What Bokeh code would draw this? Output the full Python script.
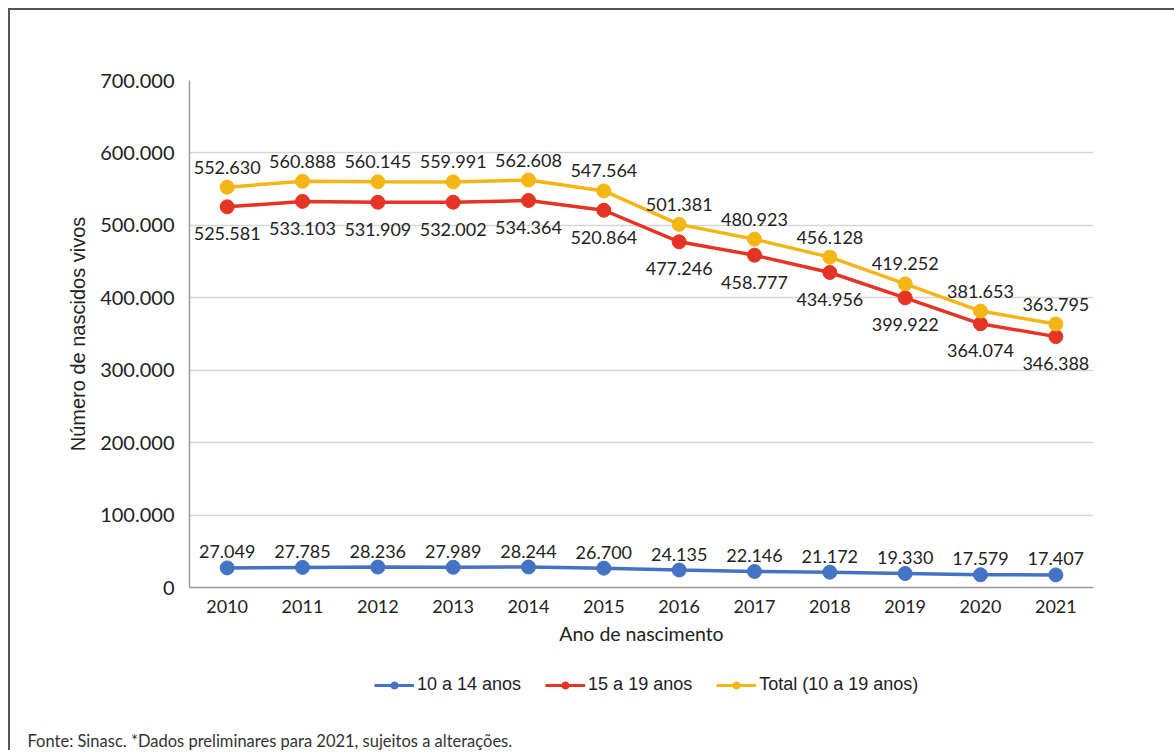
from bokeh.plotting import figure
from bokeh.layouts import column
from bokeh.models import (ColumnDataSource, FactorRange, FixedTicker, CustomJSTickFormatter,
                          Legend, LegendItem, Label, LabelSet)
from bokeh.core.properties import value
from bokeh.embed import file_html
from bokeh.resources import INLINE

years = ["2010", "2011", "2012", "2013", "2014", "2015", "2016", "2017", "2018", "2019", "2020", "2021"]
age_10_14 = [27049, 27785, 28236, 27989, 28244, 26700, 24135, 22146, 21172, 19330, 17579, 17407]
age_15_19 = [525581, 533103, 531909, 532002, 534364, 520864, 477246, 458777, 434956, 399922, 364074, 346388]
total = [552630, 560888, 560145, 559991, 562608, 547564, 501381, 480923, 456128, 419252, 381653, 363795]
series_names = ["10 a 14 anos", "15 a 19 anos", "Total (10 a 19 anos)"]
y_ticks = [0, 100000, 200000, 300000, 400000, 500000, 600000, 700000]
footer = "Fonte: Sinasc. *Dados preliminares para 2021, sujeitos a alterações."

colors = ["#4472C4", "#E53324", "#F4B614"]
FONT = "Lato"
TXT = "#222222"


def fmt(v):
    return f"{v:,}".replace(",", ".")


p = figure(width=1164, height=645, x_range=FactorRange(*years), y_range=(0, 700000),
           output_backend="svg", toolbar_location=None,
           min_border_left=179, min_border_top=70, min_border_right=81, min_border_bottom=68)
p.frame_align = False
p.outline_line_color = None
p.background_fill_color = "white"
p.border_fill_color = "white"

p.yaxis.ticker = FixedTicker(ticks=y_ticks)
p.yaxis.formatter = CustomJSTickFormatter(code="""
    return tick.toFixed(0).replace(/\\B(?=(\\d{3})+(?!\\d))/g, '.');
""")
for ax in (p.xaxis, p.yaxis):
    ax.major_tick_line_color = None
    ax.minor_tick_line_color = None
    ax.axis_line_color = "#9a9a9a"
    ax.axis_line_width = 1.5
    ax.major_label_text_font = FONT
    ax.major_label_text_color = TXT
    ax.axis_label_text_font_style = "normal"
    ax.axis_label_text_color = TXT
p.yaxis.major_label_text_font_size = "20px"
p.xaxis.major_label_text_font_size = "18px"
p.yaxis.major_label_standoff = 9
p.xaxis.major_label_standoff = 6

p.yaxis.axis_label = "Número de nascidos vivos"
p.yaxis.axis_label_text_font = "Liberation Sans"
p.yaxis.axis_label_text_font_size = "20px"
p.yaxis.axis_label_standoff = 8
p.xaxis.axis_label = "Ano de nascimento"
p.xaxis.axis_label_text_font = FONT
p.xaxis.axis_label_text_font_size = "19.5px"
p.xaxis.axis_label_standoff = 6

p.xgrid.grid_line_color = None
p.ygrid.grid_line_color = "#d6d6d6"
p.ygrid.grid_line_width = 1.5

src = ColumnDataSource(dict(x=years, a=age_10_14, b=age_15_19, t=total,
                            la=[fmt(v) for v in age_10_14],
                            lb=[fmt(v) for v in age_15_19],
                            lt=[fmt(v) for v in total]))

for col, lab, c, off in [("a", "la", colors[0], 16),
                         ("b", "lb", colors[1], -27),
                         ("t", "lt", colors[2], 20)]:
    p.line("x", col, source=src, line_color=c, line_width=3.5)
    p.scatter("x", col, source=src, size=14, fill_color=c, line_color=c)
    p.add_layout(LabelSet(x="x", y=col, text=lab, source=src, y_offset=off, text_align="center",
                          text_baseline="middle", text_font=value(FONT), text_font_size="18px",
                          text_color=TXT))

# legend + footer strip (its frame covers the whole strip so nothing is clipped)
q = figure(width=1164, height=95, x_range=(0, 1), y_range=(0, 1),
           output_backend="svg", toolbar_location=None,
           x_axis_location=None, y_axis_location=None,
           min_border=0, min_border_left=0, min_border_right=0,
           min_border_top=0, min_border_bottom=0)
q.frame_align = False
q.outline_line_color = None
q.xgrid.grid_line_color = None
q.ygrid.grid_line_color = None
q.background_fill_color = "white"
q.border_fill_color = "white"

nan = float("nan")
items = []
for name, c in zip(series_names, colors):
    lr = q.line(x=[nan], y=[nan], line_color=c, line_width=3)
    sr = q.scatter(x=[nan], y=[nan], size=10, fill_color=c, line_color=c)
    items.append(LegendItem(label=name, renderers=[lr, sr]))

legend = Legend(items=items, orientation="horizontal", location=(364, 55),
                label_text_font="Liberation Sans", label_text_font_size="18px",
                label_text_color=TXT, glyph_width=40, glyph_height=18, spacing=24,
                label_standoff=3, border_line_color=None, background_fill_alpha=0,
                padding=0, margin=0)
q.add_layout(legend, "center")

q.add_layout(Label(x=17, y=10, x_units="screen", y_units="screen", text=footer,
                   text_font=FONT, text_font_size="16.5px", text_color="#333333",
                   text_baseline="middle"))

layout = column(p, q, spacing=0)
layout.styles = {"border-left": "2px solid #555555", "border-top": "2px solid #555555",
                 "margin-left": "8px", "margin-top": "8px"}

open("out.html", "w").write(file_html(layout, INLINE))
